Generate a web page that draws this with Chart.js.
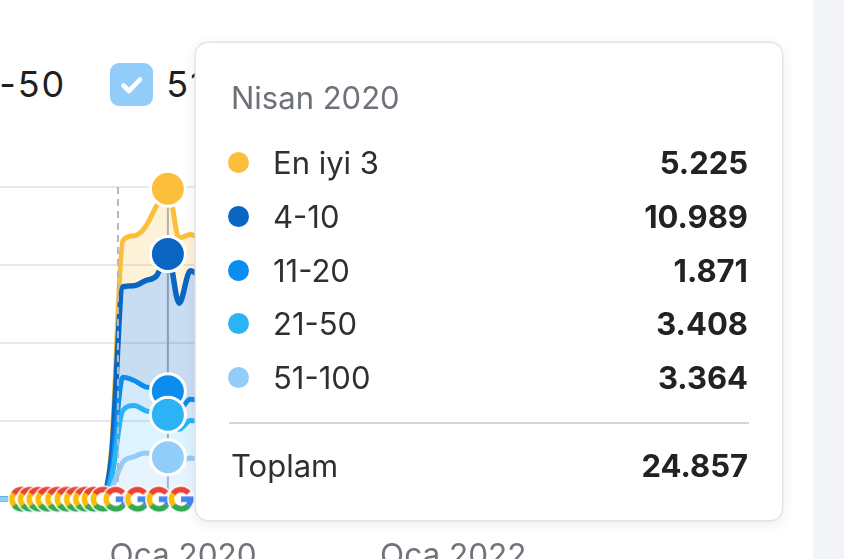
<!DOCTYPE html>
<html lang="tr">
<head>
<meta charset="utf-8">
<title>Organik pozisyonlar</title>
<script src="https://cdn.jsdelivr.net/npm/chart.js@4.4.1/dist/chart.umd.min.js"></script>
<style>
  html, body { margin: 0; padding: 0; }
  body { width: 844px; height: 559px; overflow: hidden; position: relative; background: #fff; font-family: Inter, "Noto Sans", sans-serif; }
  #strip { position: absolute; left: 813px; top: 0; width: 31px; height: 559px; background: #f3f4f7; }
  #legend { position: absolute; top: 62px; display: flex; align-items: center; gap: 44px; font-size: 36px; letter-spacing: 2px; color: #1f1f21; white-space: nowrap; }
  .item { display: flex; align-items: center; gap: 13px; }
  .box { width: 43px; height: 43px; border-radius: 9px; display: flex; align-items: center; justify-content: center; }
  #wrap { position: absolute; left: -1px; top: 0; }
  #tip { position: absolute; left: 196px; top: 43px; width: 586px; height: 477px; background: #fff; border-radius: 12px;
         box-shadow: 0 0 0 1.5px #e2e4ea, 0 3px 14px rgba(30, 40, 70, 0.10); font-size: 31px; color: #2e2f33; }
  .title { position: absolute; left: 35px; top: 34.5px; line-height: 40px; color: #6d7179; }
  .row { position: absolute; left: 32px; right: 34px; height: 54px; display: flex; align-items: center; }
  .dot { width: 21px; height: 21px; border-radius: 50%; margin-right: 24px; flex: none; }
  .val { margin-left: auto; font-weight: 700; color: #222; }
  .sep { position: absolute; left: 33px; right: 33px; top: 379px; height: 2px; background: #d3d6dc; }
</style>
</head>
<body>
<div id="strip"></div>
<div id="legend"></div>
<div id="wrap"><canvas id="chart" width="653" height="613"></canvas></div>
<div id="tip"></div>

<script>
// Months on the x axis (monthly data)
const MONTHS = [
  '2019-01', '2019-02', '2019-03', '2019-04', '2019-05', '2019-06', '2019-07', '2019-08', '2019-09', '2019-10', '2019-11', '2019-12',
  '2020-01', '2020-02', '2020-03', '2020-04', '2020-05', '2020-06', '2020-07', '2020-08', '2020-09', '2020-10', '2020-11', '2020-12',
  '2021-01', '2021-02', '2021-03', '2021-04', '2021-05', '2021-06', '2021-07', '2021-08', '2021-09', '2021-10', '2021-11', '2021-12',
  '2022-01', '2022-02', '2022-03', '2022-04', '2022-05', '2022-06', '2022-07', '2022-08', '2022-09', '2022-10', '2022-11', '2022-12',
  '2023-01', '2023-02', '2023-03', '2023-04', '2023-05', '2023-06', '2023-07', '2023-08', '2023-09', '2023-10', '2023-11'
];
const MONTH_SHORT = ['Oca', 'Şub', 'Mar', 'Nis', 'May', 'Haz', 'Tem', 'Ağu', 'Eyl', 'Eki', 'Kas', 'Ara'];
const MONTH_LONG = ['Ocak', 'Şubat', 'Mart', 'Nisan', 'Mayıs', 'Haziran', 'Temmuz', 'Ağustos', 'Eylül', 'Ekim', 'Kasım', 'Aralık'];

const SERIES_NAMES = ['En iyi 3', '4-10', '11-20', '21-50', '51-100'];

// Keyword counts per position group
const TOP3 = [
  0, 0, 0, 0, 0, 0, 0, 0, 0, 0, 600, 3700,
  4000, 4300, 5600, 5225, 5200, 2900, 3000, 3200, 3400, 3600, 3300, 3500,
  3700, 3800, 4000, 3900, 4100, 4300, 4400, 4200, 4000, 4200, 4400, 4600,
  3600, 3400, 3600, 3800, 3900, 3800, 3700, 3500, 3600, 3800, 3900, 3800,
  3700, 3500, 3700, 3800, 3900, 3900, 3700, 3900, 3900, 3900, 3800
];
const POS4_10 = [
  0, 0, 0, 0, 0, 0, 0, 0, 0, 0, 1300, 7240,
  7600, 8500, 9000, 10989, 8500, 10300, 10000, 10300, 10600, 10900, 10400, 10700,
  10900, 11100, 11300, 11000, 11300, 11500, 11700, 11300, 11000, 11300, 11500, 11700,
  11600, 11300, 11500, 11700, 11700, 11700, 11400, 11000, 11300, 11500, 11700, 11600,
  11400, 11100, 11300, 11500, 11700, 11600, 11300, 11500, 11700, 11600, 11400
];
const POS11_20 = [
  0, 0, 0, 0, 0, 0, 0, 0, 0, 0, 500, 2660,
  2000, 1900, 2000, 1871, 1600, 1700, 1700, 1800, 1800, 1900, 1800, 1900,
  1900, 2000, 2000, 1900, 2000, 2100, 2100, 2000, 1900, 2000, 2100, 2100,
  2100, 2000, 2000, 2100, 2200, 2100, 2000, 1900, 2000, 2100, 2200, 2100,
  2000, 1900, 2000, 2100, 2200, 2100, 2000, 2100, 2200, 2100, 2000
];
const POS21_50 = [
  0, 0, 0, 0, 0, 0, 0, 0, 0, 0, 800, 4140,
  4100, 3400, 3400, 3408, 2600, 3000, 3000, 3100, 3200, 3300, 3100, 3200,
  3300, 3300, 3400, 3300, 3400, 3500, 3500, 3400, 3300, 3400, 3500, 3500,
  3500, 3400, 3400, 3500, 3600, 3500, 3400, 3300, 3400, 3500, 3600, 3500,
  3400, 3300, 3400, 3500, 3600, 3500, 3400, 3500, 3600, 3500, 3400
];
const POS51_100 = [
  0, 0, 0, 0, 0, 0, 0, 0, 0, 0, 900, 2960,
  3400, 3700, 3500, 3364, 3000, 3300, 3200, 3300, 3300, 3400, 3200, 3300,
  3300, 3400, 3400, 3300, 3400, 3500, 3500, 3400, 3300, 3400, 3500, 3500,
  3500, 3400, 3400, 3500, 3600, 3500, 3400, 3300, 3400, 3500, 3600, 3500,
  3400, 3300, 3400, 3500, 3600, 3500, 3400, 3500, 3600, 3500, 3400
];
const SERIES_VALUES = [TOP3, POS4_10, POS11_20, POS21_50, POS51_100];

// Google algorithm update markers
const GOOGLE_UPDATES = [
  '2019-03-01', '2019-03-24', '2019-04-17', '2019-05-11', '2019-06-07', '2019-07-02', '2019-07-27',
  '2019-08-21', '2019-09-14', '2019-10-08', '2019-11-12', '2020-01-10', '2020-03-07', '2020-05-06'
];
const NOTE_DATE = '2019-11-18';   // dashed marker line
const HOVER_MONTH = '2020-04';    // month shown in the tooltip

const Y_TICKS = [0, 6250, 12500, 18750, 25000];

const LINE_COLORS = ['#fcbf3b', '#0b66c3', '#0b8df0', '#2cb3f6', '#92ccf9'];
const FILL_COLORS = ['rgba(252,191,59,0.20)', 'rgba(11,102,195,0.22)', 'rgba(11,141,240,0.18)', 'rgba(44,179,246,0.16)', 'rgba(146,204,249,0.22)'];

// months since Jan 2020 (fractional for day dates)
function xOf(s) {
  const [y, m, d] = s.split('-').map(Number);
  return (y - 2020) * 12 + (m - 1) + (d ? (d - 1) / 30 : 0);
}
const fmt = n => String(n).replace(/\B(?=(\d{3})+(?!\d))/g, '.');
const HOVER_INDEX = MONTHS.indexOf(HOVER_MONTH);

function googleIcon() {
  const c = document.createElement('canvas');
  c.width = 28; c.height = 28;
  const g = c.getContext('2d');
  const cx = 14, cy = 14, r = 9.6, lw = 5.6;
  const deg = d => d * Math.PI / 180;
  g.fillStyle = '#fff';
  g.beginPath(); g.arc(cx, cy, 13.8, 0, Math.PI * 2); g.fill();
  g.lineWidth = lw;
  const seg = (a0, a1, col) => { g.strokeStyle = col; g.beginPath(); g.arc(cx, cy, r, deg(a0), deg(a1)); g.stroke(); };
  seg(-146, -40, '#ea4335');
  seg(140, 215, '#fbbc05');
  seg(38, 141, '#34a853');
  seg(0, 39, '#4285f4');
  g.fillStyle = '#4285f4';
  g.fillRect(cx, cy - lw / 2, r + lw / 2, lw);
  return c;
}

// Legend
const legend = document.getElementById('legend');
SERIES_NAMES.forEach((name, i) => {
  const item = document.createElement('div');
  item.className = 'item';
  item.innerHTML = `<div class="box" style="background:${LINE_COLORS[i]}">
      <svg width="43" height="43" viewBox="0 0 43 43"><polyline points="13.5,22.5 19,28 30,16.5" fill="none" stroke="#fff" stroke-width="4.6" stroke-linecap="round" stroke-linejoin="round"/></svg>
    </div><span>${name}</span>`;
  legend.appendChild(item);
});
function placeLegend() {
  const lastBox = legend.lastElementChild.querySelector('.box');
  legend.style.left = (110 - lastBox.offsetLeft) + 'px';
}
placeLegend();
if (document.fonts) document.fonts.ready.then(placeLegend);

// Tooltip
const tip = document.getElementById('tip');
const [hy, hm] = HOVER_MONTH.split('-').map(Number);
let html = `<div class="title">${MONTH_LONG[hm - 1]} ${hy}</div>`;
let total = 0;
SERIES_NAMES.forEach((name, i) => {
  const v = SERIES_VALUES[i][HOVER_INDEX];
  total += v;
  html += `<div class="row" style="top:${92.5 + i * 53.8}px"><span class="dot" style="background:${LINE_COLORS[i]}"></span><span>${name}</span><span class="val">${fmt(v)}</span></div>`;
});
html += `<div class="sep"></div>`;
html += `<div class="row" style="top:395px;left:35px"><span>Toplam</span><span class="val">${fmt(total)}</span></div>`;
tip.innerHTML = html;

// Chart: stacked areas, bottom group first
const datasets = [];
for (let i = SERIES_NAMES.length - 1; i >= 0; i--) {
  const stackPos = SERIES_NAMES.length - 1 - i;
  datasets.push({
    label: SERIES_NAMES[i],
    data: MONTHS.map((m, k) => ({ x: xOf(m), y: SERIES_VALUES[i][k] })),
    borderColor: LINE_COLORS[i],
    backgroundColor: FILL_COLORS[i],
    borderWidth: i === 1 ? 5.5 : 5,
    fill: stackPos === 0 ? 'origin' : '-1',
    cubicInterpolationMode: 'monotone',
    pointRadius: ctx => ctx.dataIndex === HOVER_INDEX ? 17.5 : 0,
    pointBackgroundColor: LINE_COLORS[i],
    pointBorderColor: '#fff',
    pointBorderWidth: 3,
    clip: false
  });
}
datasets.push({
  label: 'Google',
  data: GOOGLE_UPDATES.map(d => ({ x: xOf(d), y: 0 })),
  showLine: false,
  fill: false,
  pointStyle: googleIcon(),
  pointRadius: 12,
  stack: 'updates',
  order: -1,
  clip: false
});

const markers = {
  id: 'markers',
  beforeDatasetsDraw(chart) {
    const { ctx, chartArea, scales } = chart;
    const x = scales.x.getPixelForValue(xOf(HOVER_MONTH));
    ctx.save();
    ctx.strokeStyle = '#a9afb8';
    ctx.lineWidth = 2;
    ctx.beginPath(); ctx.moveTo(x, chartArea.top); ctx.lineTo(x, chartArea.bottom); ctx.stroke();
    ctx.restore();
  },
  afterDatasetDraw(chart, args) {
    if (args.index !== 0) return;
    const { ctx, chartArea, scales } = chart;
    const x = scales.x.getPixelForValue(xOf(NOTE_DATE));
    ctx.save();
    ctx.strokeStyle = '#b4b8bf';
    ctx.lineWidth = 2;
    ctx.setLineDash([7, 5]);
    ctx.beginPath(); ctx.moveTo(x, chartArea.top); ctx.lineTo(x, chartArea.bottom); ctx.stroke();
    ctx.restore();
  }
};

new Chart(document.getElementById('chart'), {
  type: 'line',
  data: { datasets },
  options: {
    responsive: false,
    animation: false,
    events: [],
    layout: { autoPadding: false, padding: { top: 187, left: 0, right: 0, bottom: 0 } },
    plugins: { legend: { display: false }, tooltip: { enabled: false } },
    scales: {
      x: {
        type: 'linear',
        min: xOf(MONTHS[0]),
        max: xOf(MONTHS[MONTHS.length - 1]),
        grid: { display: false, drawTicks: false, tickLength: 0 },
        border: { display: false },
        ticks: {
          stepSize: 12,
          autoSkip: false,
          maxRotation: 0,
          minRotation: 0,
          padding: 38,
          labelOffset: 49,
          color: '#707379',
          font: { family: 'Inter', size: 31.5 },
          callback: v => {
            const yr = 2020 + v / 12;
            if (v % 12 !== 0 || yr % 2 !== 0) return null;
            return MONTH_SHORT[0] + ' ' + yr;
          }
        }
      },
      y: {
        stacked: true,
        min: Y_TICKS[0],
        max: Y_TICKS[Y_TICKS.length - 1],
        afterBuildTicks: axis => { axis.ticks = Y_TICKS.map(v => ({ value: v })); },
        ticks: { display: false },
        grid: { color: '#e6e7eb', lineWidth: 2, drawTicks: false, tickLength: 0 },
        border: { display: false }
      }
    }
  },
  plugins: [markers]
});
</script>
</body>
</html>
